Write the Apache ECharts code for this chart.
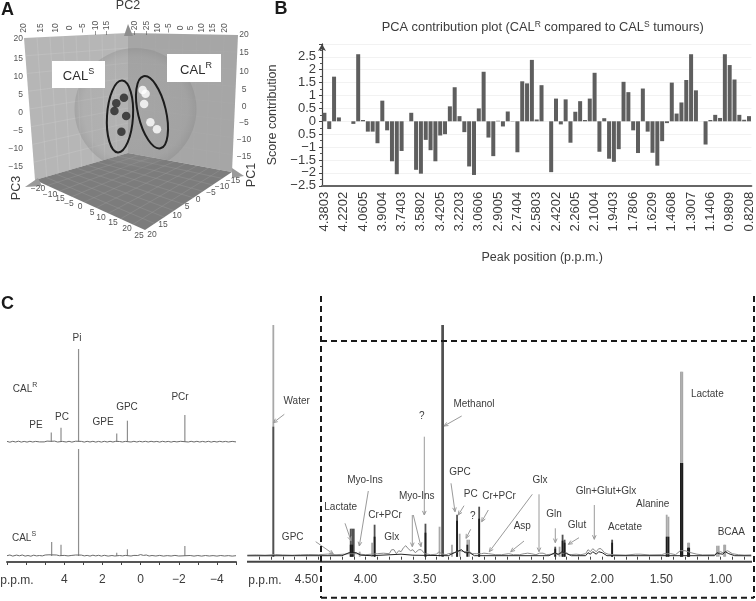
<!DOCTYPE html>
<html>
<head>
<meta charset="utf-8">
<script src="https://cdn.jsdelivr.net/npm/echarts@6/dist/echarts.min.js"></script>
<style>
html,body{margin:0;padding:0;background:#fff}
#chart{width:756px;height:601px;filter:blur(0.45px)}
</style>
</head>
<body>
<div id="chart"></div>
<script>
// ---------- Panel A: PCA scores (projected onto the page plane) ----------
const calSensitive = [[-1.1,4.0],[-3.2,2.5],[-3.7,0.4],[-0.5,-1.0],[-1.8,-5.3]];
const calResistant = [[4.0,6.1],[4.8,5.1],[4.4,2.3],[6.1,-2.7],[7.9,-4.6]];

// ---------- Panel B: contribution bars ----------
const peakLabels = ['4.3803','4.2202','4.0605','3.9004','3.7403','3.5802','3.4205','3.2203','3.0606','2.9005','2.7404','2.5803','2.4202','2.2605','2.1004','1.9403','1.7806','1.6209','1.4608','1.3007','1.1406','0.9809','0.8208'];
const scoreValues = [0.33,-0.3,1.73,0.15,0,0,-0.1,2.6,0.05,-0.4,-0.4,-0.85,0.8,-0.35,-1.55,-2.05,-1.15,0,0.33,-1.88,-2.03,-0.72,-1.12,-1.55,-0.55,-0.5,0.58,1.32,0.2,-0.42,-1.75,-2.08,0.5,1.92,-0.63,-1.35,0.02,-0.2,0.38,-0.01,-1.2,1.55,1.47,2.38,0.07,1.4,0,-1.97,0.88,-0.12,0.85,-0.83,0.37,0.78,0.05,0.88,1.88,-1.18,0.12,-1.45,-1.57,-1.08,1.53,1.13,-0.35,-1.23,1.27,-0.4,-1.22,-1.72,-0.77,-0.07,1.5,0.3,0.73,1.6,2.6,1.2,0,-0.9,0.05,0.25,0.13,2.6,2.18,1.62,0.25,0.06,0.2];
const scoreTickLabels = {'-2.5':'−2.5','-2':'−2','-1.5':'−1.5','-1':'−1','-0.5':'0.5','0':'0','0.5':'0.5','1':'1','1.5':'1.5','2':'2','2.5':'2.5','3':''};

// ---------- Panel C left: 31P spectra, [ppm, intensity] ----------
const pNoiseR = [[7,0.3],[6.85,-0.5],[6.7,0.4],[6.55,-0.3],[6.4,0.5],[6.25,-0.4],[6.1,0.3],[5.95,-0.4],[5.8,0.4],[5.65,-0.3],[5.5,0.3],[5.3,-0.2],[5.2,0.9],[5.05,-0.2],[4.9,0.6],[4.7,0.4],[4.5,0.6],[4.35,-0.3],[4.1,0.3],[3.9,-0.3],[3.75,0.4],[3.6,-0.4],[3.4,0.5],[3.1,0.3],[2.95,-0.4],[2.8,0.4],[2.65,-0.3],[2.5,0.4],[2.35,-0.4],[2.2,0.3],[2.05,-0.4],[1.9,0.4],[1.75,-0.3],[1.6,0.4],[1.45,-0.3],[1.3,0.4],[1.1,0.2],[0.95,-0.3],[0.8,0.3],[0.5,-0.3],[0.35,0.4],[0.2,-0.3],[0.05,0.4],[-0.1,-0.2],[-0.25,0.4],[-0.4,-0.3],[-0.55,0.4],[-0.7,-0.2],[-0.85,0.3],[-1,-0.4],[-1.15,0.4],[-1.3,-0.2],[-1.45,0.3],[-1.6,-0.4],[-1.75,0.3],[-1.9,-0.2],[-2.1,0.4],[-2.5,-0.3],[-2.65,0.4],[-2.8,-0.3],[-2.95,0.4],[-3.1,-0.3],[-3.25,0.3],[-3.4,-0.3],[-3.55,0.4],[-3.7,-0.4],[-3.85,0.3],[-4,-0.3],[-4.15,0.4],[-4.3,-0.2],[-4.45,0.3],[-4.6,-0.3],[-4.8,0.3],[-5,-0.2]];
const pPeaksR = [[4.68,9.3],[4.17,14],[3.25,92.7],[1.25,8.3],[0.69,21],[-2.32,26.7]];
const pNoiseS = [[7,0.3],[6.85,1],[6.7,-0.1],[6.5,0.9],[6.35,0.2],[6.2,1],[6.05,-0.1],[5.9,0.5],[5.75,-0.2],[5.6,0.8],[5.45,0.1],[5.3,0.5],[5.15,0.1],[5,1],[4.8,1.2],[4.4,1],[4.25,0.3],[4,0.6],[3.8,0.1],[3.6,0.6],[3.4,1],[3.1,0.9],[2.95,0.1],[2.8,0.6],[2.65,-0.1],[2.5,0.8],[2.35,0.1],[2.2,0.7],[2.05,-0.1],[1.9,0.7],[1.7,-0.1],[1.5,0.5],[1.35,0],[1.1,0.5],[0.95,0.1],[0.8,0.6],[0.5,0],[0.35,0.6],[0.15,0.5],[0,1.4],[-0.15,0.6],[-0.3,1],[-0.45,0],[-0.6,0.5],[-0.8,0],[-1,0.6],[-1.2,-0.1],[-1.4,0.4],[-1.6,0],[-1.8,0.6],[-2,0],[-2.6,0.5],[-2.8,-0.1],[-3,0.5],[-3.2,-0.1],[-3.4,0.5],[-3.6,0],[-3.8,0.4],[-4,-0.1],[-4.2,0.5],[-4.4,0],[-4.6,0.4],[-4.8,-0.1],[-5,0.3]];
const pPeaksS = [[4.66,14],[4.17,11.3],[3.25,107],[1.25,3.3],[0.69,6.7],[-2.32,10]];
const pAxisLabels = {'4':'4','2':'2','0':'0','-2':'−2','-4':'−4'};

// ---------- Panel C right: 1H spectra, [ppm, intensity] ----------
const hLightBase = [[5,1.6],[4.92,1.8],[4.85,1.5],[4.76,2.2],[4.7,1.8],[4.62,1.5],[4.55,1.9],[4.48,2.2],[4.4,2],[4.32,2.6],[4.25,2],[4.18,2.5],[4.14,3],[4.08,3],[4.05,2.5],[4,2],[3.95,2.5],[3.9,3],[3.85,3.5],[3.8,3],[3.78,7],[3.76,7],[3.74,3],[3.72,6],[3.7,5],[3.68,9],[3.66,11],[3.64,8],[3.62,6],[3.6,7],[3.58,4],[3.55,7],[3.53,7],[3.5,3],[3.45,2],[3.4,2.5],[3.38,5],[3.36,3],[3.32,2],[3.3,3],[3.25,4],[3.2,6],[3.17,5],[3.12,5],[3.1,3],[3.06,3],[3.02,3],[3,3.5],[2.96,3],[2.9,2],[2.85,2],[2.79,3],[2.75,2],[2.7,2],[2.66,3],[2.63,3.5],[2.6,3],[2.56,2],[2.53,3.5],[2.5,3.5],[2.47,2],[2.43,2.5],[2.38,3],[2.3,4],[2.28,2],[2.22,2.5],[2.18,2],[2.14,3],[2.12,7],[2.1,5],[2.08,8],[2.05,5],[2.03,8],[2.01,8],[1.98,4],[1.95,2.5],[1.9,2],[1.8,1.6],[1.72,2.5],[1.68,2.5],[1.6,1.8],[1.5,2],[1.47,3],[1.42,3],[1.38,2],[1.34,6],[1.3,6],[1.25,4],[1.2,2.5],[1.15,1.8],[1.05,2],[1,5],[0.98,4],[0.94,6],[0.9,3],[0.85,2],[0.8,1.6],[0.74,1.8]];
const hLightPeaks = [[4.78,231.7],[4.05,5],[3.945,14],[3.375,30],[3.27,12],[3.205,23],[3.14,17],[3.125,17],[2.36,10],[1.455,42],[1.44,40],[1.335,185],[1.323,185],[1.275,14],[1.265,14],[1.03,11],[1.015,11],[0.97,12],[0.96,12]];
const hMidPeaks = [[4.78,130],[4.126,28],[4.113,28],[4.1,28],[3.924,32],[3.494,33],[3.353,231.7],[3.345,231.7],[3.227,42],[3.04,50],[2.397,10],[2.335,22],[2.318,17],[1.916,17]];
const hDarkBase = [[5,0.9],[4.6,1],[4.2,1],[4.14,4],[4.08,4],[4.04,1.5],[3.95,1],[3.7,2.5],[3.6,1.5],[3.3,1],[3.25,4],[3.19,7],[3.16,4],[3.12,4],[3.08,1],[2.45,1],[2.4,4],[2.37,2],[2.34,5],[2.3,3],[2.26,1],[2.14,1],[2.12,4],[2.1,2.5],[2.08,5],[2.05,2.5],[2.03,5],[2,4],[1.96,1],[1.05,1],[1.03,4],[1.01,3],[0.98,2.5],[0.96,5],[0.93,3],[0.88,1],[0.74,0.9]];
const hDarkPeaks = [[4.126,12],[4.113,12],[3.924,20],[3.494,24],[3.227,36],[3.14,12],[3.04,38],[2.397,8],[2.335,16],[2.318,14],[1.916,14],[1.455,20],[1.44,20],[1.335,93.7],[1.323,93.7],[1.275,9],[1.265,9]];

const FONT = '"Liberation Sans", Arial, sans-serif';
const TEXT = '#3c3c3c';
function txt(x, y, text, size, opt) {
  opt = opt || {};
  return {type:'text', x, y, rotation: opt.rot || 0, z: 20, silent: true,
    style: {text, fontSize:size, fontFamily:FONT, fill:opt.fill||TEXT, fontWeight:opt.weight||'normal',
      align:opt.align||'center', verticalAlign:'middle', rich:opt.rich}};
}
function line(pts, stroke, w, z, dash) {
  return {type:'polyline', z: z||1, silent:true, shape:{points:pts}, style:{stroke, lineWidth:w, fill:null, lineDash:dash||null}};
}
function arrow(x1, y1, x2, y2) {
  const a = Math.atan2(y2-y1, x2-x1), s = 4.5, d = 0.42;
  return [line([[x1,y1],[x2,y2]], '#9a9a9a', 1, 18),
          line([[x2-s*Math.cos(a-d), y2-s*Math.sin(a-d)],[x2,y2],[x2-s*Math.cos(a+d), y2-s*Math.sin(a+d)]], '#9a9a9a', 1, 18)];
}
function poly(pts, fill, z) {
  return {type:'polygon', z:z||0, silent:true, shape:{points:pts}, style:{fill}};
}
function quadGrid(tl, tr, br, bl, n, stroke) {
  const out = [];
  const mix = (a, b, t) => [a[0]+(b[0]-a[0])*t, a[1]+(b[1]-a[1])*t];
  for (let i = 1; i < n; i++) {
    const t = i/n;
    out.push(line([mix(tl,tr,t), mix(bl,br,t)], stroke, 0.6, 1));
    out.push(line([mix(tl,bl,t), mix(tr,br,t)], stroke, 0.6, 1));
  }
  return out;
}

// ---------- Decorative layer ----------
const g = [];
const corner = {top:[128,33], tl:[24,38], bl:[35,180], back:[128,153], tr:[238,35], br:[232,172], front:[145,230]};
g.push(poly([corner.tl, corner.top, corner.back, corner.bl], '#b6b6b6', 0));
g.push(poly([corner.top, corner.tr, corner.br, corner.back], '#a6a6a6', 0));
g.push(poly([corner.back, corner.br, corner.front, corner.bl], '#7c7c7c', 0));
g.push(...quadGrid(corner.tl, corner.top, corner.back, corner.bl, 8, 'rgba(205,205,205,0.6)'));
g.push(...quadGrid(corner.top, corner.tr, corner.br, corner.back, 8, 'rgba(175,175,175,0.4)'));
g.push(...quadGrid(corner.bl, corner.back, corner.br, corner.front, 9, 'rgba(160,160,160,0.55)'));
g.push(poly([[128,24],[124,36],[133,36]], '#8e8e8e', 1));
g.push(poly([[25,187],[38,178],[42,186]], '#9a9a9a', 1));
g.push(poly([[232,168],[244,176],[232,178]], '#9a9a9a', 1));
g.push({type:'circle', z:1, silent:true, shape:{cx:135.5,cy:109,r:61},
  style:{fill:{type:'radial',x:0.5,y:0.5,r:0.5,colorStops:[{offset:0,color:'rgba(165,165,165,0.2)'},{offset:0.85,color:'rgba(150,150,150,0.22)'},{offset:1,color:'rgba(120,120,120,0.28)'}]}}});
g.push({type:'rect', z:3, silent:true, shape:{x:52,y:61,width:53,height:27}, style:{fill:'#fff'}});
g.push({type:'rect', z:3, silent:true, shape:{x:167,y:54,width:54,height:28}, style:{fill:'#fff'}});
const bigSup = {n:{fontSize:13,fontFamily:FONT,fill:'#2c2c2c',lineHeight:16,verticalAlign:'bottom'},s:{fontSize:9,fontFamily:FONT,fill:'#2c2c2c',lineHeight:16,verticalAlign:'top'}};
g.push(txt(78.5,75,'{n|CAL}{s|S}',12,{rich:bigSup}));
g.push(txt(196,69,'{n|CAL}{s|R}',12,{rich:bigSup}));
g.push({type:'ellipse', z:4, silent:true, x:120, y:116.5, rotation:-0.06, shape:{cx:0,cy:0,rx:13,ry:36}, style:{stroke:'#1c1c1c',lineWidth:2,fill:null}});
g.push({type:'ellipse', z:4, silent:true, x:152, y:112.3, rotation:0.23, shape:{cx:0,cy:0,rx:14,ry:37}, style:{stroke:'#1c1c1c',lineWidth:2,fill:null}});
const PI2 = Math.PI/2;
[[24,'20'],[41,'15'],[56,'10'],[70,'0'],[83,'−5'],[96,'−10'],[107,'−15'],[135,'−20'],[147,'−25'],[158,'10'],[169,'−5'],[181,'0'],[191,'5'],[202,'10'],[213,'15'],[225,'20']]
  .forEach(([x,t]) => g.push(txt(x,28,t,8.5,{rot:PI2,fill:'#555'})));
[[39,'20'],[58.7,'15'],[77,'10'],[95,'5'],[112.7,'0'],[130.7,'−5'],[149,'−10'],[166.7,'−15']]
  .forEach(([y,t]) => g.push(txt(23,y,t,8.5,{align:'right',fill:'#555'})));
[[35,'20'],[53,'15'],[72,'10'],[90,'5'],[107,'0'],[123,'−5'],[140,'−10'],[157,'−15']]
  .forEach(([y,t]) => g.push(txt(244,y,t,8.5,{fill:'#555'})));
[[38,189,'−20'],[50,195,'−10'],[60,199,'15'],[69,204,'−5'],[80,207,'0'],[92,213,'5'],[101,218,'10'],[113,223,'15'],[127,229,'20'],[139,236,'25'],[152,235,'20'],[163,225,'15'],[177,216,'10'],[187,207,'5'],[198,200,'0'],[211,193,'−5'],[222,187,'−10'],[233,181,'−15']]
  .forEach(([x,y,t]) => g.push(txt(x,y,t,8.5,{fill:'#555'})));
g.push(txt(128,6,'PC2',12.5));
g.push(txt(17,188,'PC3',12.5,{rot:PI2}));
g.push(txt(252,175,'PC1',12.5,{rot:PI2}));
g.push(txt(7.5,10,'A',18,{weight:'bold',fill:'#1a1a1a'}));
g.push(txt(281,9,'B',18,{weight:'bold',fill:'#1a1a1a'}));
g.push(txt(7.5,304,'C',18,{weight:'bold',fill:'#1a1a1a'}));
const sup = {n:{fontSize:10,fontFamily:FONT,fill:TEXT,lineHeight:13,verticalAlign:'bottom'},s:{fontSize:7,fontFamily:FONT,fill:TEXT,lineHeight:13,verticalAlign:'top'}};
[[77,338,'Pi'],[36,425,'PE'],[62,417,'PC'],[103,422,'GPE'],[127,407,'GPC'],[180,397,'PCr']].forEach(([x,y,t]) => g.push(txt(x,y,t,10)));
g.push(txt(25,388,'{n|CAL}{s|R}',10,{rich:sup}));
g.push(txt(24,537,'{n|CAL}{s|S}',10,{rich:sup}));
g.push(txt(17,580.5,'p.p.m.',12));
g.push(txt(265,580.5,'p.p.m.',12));
[[296.7,401.3,'Water'],[292.7,537.3,'GPC'],[340.7,507.3,'Lactate'],[365,480,'Myo-Ins'],[385,515.7,'Cr+PCr'],[391.7,537.3,'Glx'],[416.7,496.7,'Myo-Ins'],[421.7,416,'?'],[474,404,'Methanol'],[460,472.3,'GPC'],[470.7,494.3,'PC'],[472.7,516,'?'],[499,496.7,'Cr+PCr'],[540,480,'Glx'],[554,514,'Gln'],[522.3,526,'Asp'],[577,525,'Glut'],[606,491.7,'Gln+Glut+Glx'],[652.7,504.7,'Alanine'],[625,527.7,'Acetate'],[707.3,394,'Lactate'],[731.3,532.3,'BCAA']]
  .forEach(([x,y,t]) => g.push(txt(x,y,t,10)));
[[284.3,414.3,273.3,422.7],[315.7,541.7,333.3,554],[345,523.3,351,540.7],[368.3,491,359.3,546],[412.3,515,412.3,546.7],[413.3,515,421,546.7],[424.3,436.7,424.3,515],[461.7,416,444,426],[451,483.3,455,511.7],[464,505.7,458.3,515],[470.7,529.3,466,538.3],[488.3,510,481.7,521.7],[532.3,494.3,489.3,551.7],[539,494.3,539,551.7],[524,541,510.7,551.7],[555.3,528.3,555.3,542.7],[579,537.7,568.3,544.3],[594.3,505,594.3,539.3]]
  .forEach(a => g.push(...arrow(a[0],a[1],a[2],a[3])));
const dash = [6,4];
g.push(line([[321,296],[321,598]], '#1a1a1a', 2, 19, dash));
g.push(line([[321,341],[754,341]], '#1a1a1a', 2, 19, dash));
g.push(line([[754,296],[754,598]], '#1a1a1a', 2, 19, dash));
g.push(line([[321,597.7],[754,597.7]], '#1a1a1a', 2, 19, dash));
g.push(line([[247,561.7],[752,561.7]], '#444', 2, 15));

// ---------- Chart ----------
const categories = scoreValues.map((_, i) => i % 4 ? '' : peakLabels[i/4]);
const hidden = {show:false};
const hiddenAxis = {axisLine:hidden, axisTick:hidden, axisLabel:hidden, splitLine:hidden};
const H = {xAxisIndex:4, yAxisIndex:4, silent:true};
const spikes = {type:'bar', barWidth:1.8, barGap:'-100%'};

const option = {
  animation:false,
  backgroundColor:'#fff',
  textStyle:{fontFamily:FONT},
  title:{text:'PCA contribution plot (CAL{s|R} compared to CAL{s|S} tumours)', left:537.7, top:15, textAlign:'center',
    textStyle:{fontSize:12.8,fontWeight:'normal',fontFamily:FONT,color:TEXT,
      rich:{s:{fontSize:8.5,fontFamily:FONT,color:TEXT,verticalAlign:'top',lineHeight:15}}}},
  grid:[
    {left:322, top:43.9, width:429.4, height:141.9},
    {left:18, top:39, width:220, height:146.8},
    {left:7, top:341.7, width:229, height:103},
    {left:7, top:446, width:229, height:116},
    {left:247.3, top:324.7, width:510, height:237}
  ],
  xAxis:[
    {gridIndex:0, type:'category', data:categories,
      axisLine:{lineStyle:{color:'#666',width:2},onZero:false},
      axisTick:{alignWithLabel:true, interval:3, length:3, lineStyle:{color:'#555'}},
      axisLabel:{interval:3, rotate:90, fontSize:13, fontFamily:FONT, color:TEXT, margin:6},
      name:'Peak position (p.p.m.)', nameLocation:'middle', nameGap:65,
      nameTextStyle:{fontSize:12.5,fontFamily:FONT,color:TEXT,padding:[0,0,0,11]}},
    Object.assign({gridIndex:1, type:'value', min:-30, max:30}, hiddenAxis),
    Object.assign({gridIndex:2, type:'value', min:-5, max:7, inverse:true}, hiddenAxis),
    {gridIndex:3, type:'value', min:-5, max:7, interval:1, inverse:true,
      axisLine:{lineStyle:{color:'#555',width:2},onZero:false},
      axisTick:{length:3, lineStyle:{color:'#444'}},
      axisLabel:{fontSize:12, fontFamily:FONT, color:TEXT, margin:12, formatter:v => pAxisLabels[v] || ''},
      splitLine:hidden},
    {gridIndex:4, type:'value', min:0.7, max:5, interval:0.1, inverse:true,
      axisLine:hidden,
      axisTick:{length:3, lineStyle:{color:'#444'}},
      axisLabel:{fontSize:12, fontFamily:FONT, color:TEXT, margin:12, showMinLabel:false, showMaxLabel:false,
        formatter:v => Math.abs(v*2-Math.round(v*2))<1e-6 && v<4.9 ? v.toFixed(2) : ''},
      splitLine:hidden}
  ],
  yAxis:[
    {gridIndex:0, type:'value', min:-2.5, max:3, interval:0.5,
      axisLine:{show:true, lineStyle:{color:'#444',width:1.2}, symbol:['none','arrow'], symbolSize:[6,7], onZero:false},
      axisTick:{show:true, length:3, lineStyle:{color:'#444'}},
      minorTick:{show:true, splitNumber:2, length:2, lineStyle:{color:'#555'}},
      axisLabel:{fontSize:13, fontFamily:FONT, color:TEXT, margin:6, formatter:v => scoreTickLabels[String(v)] ?? ''},
      splitLine:{show:true, lineStyle:{color:'#f2f2f2',width:1}},
      name:'Score contribution', nameLocation:'middle', nameGap:24,
      nameTextStyle:{fontSize:12.5,fontFamily:FONT,color:TEXT}},
    Object.assign({gridIndex:1, type:'value', min:-20, max:20}, hiddenAxis),
    Object.assign({gridIndex:2, type:'value', min:-3, max:100}, hiddenAxis),
    Object.assign({gridIndex:3, type:'value', min:-6, max:110}, hiddenAxis),
    Object.assign({gridIndex:4, type:'value', min:-5, max:232}, hiddenAxis)
  ],
  series:[
    {name:'Score contribution', type:'bar', xAxisIndex:0, yAxisIndex:0, data:scoreValues, barWidth:4,
      itemStyle:{color:'#5e5e5e'}, silent:true, z:3},
    {name:'CAL-S', type:'scatter', xAxisIndex:1, yAxisIndex:1, data:calSensitive, symbolSize:8.5, itemStyle:{color:'#262626'}, silent:true, z:6},
    {name:'CAL-R', type:'scatter', xAxisIndex:1, yAxisIndex:1, data:calResistant, symbolSize:8.5, itemStyle:{color:'#ffffff'}, silent:true, z:6},
    {name:'CAL-R noise', type:'line', xAxisIndex:2, yAxisIndex:2, data:pNoiseR, showSymbol:false, lineStyle:{color:'#6a6a6a',width:1}, silent:true, clip:false},
    {name:'CAL-R peaks', type:'bar', barWidth:1.2, xAxisIndex:2, yAxisIndex:2, data:pPeaksR, itemStyle:{color:'#8e8e8e'}, silent:true},
    {name:'CAL-S noise', type:'line', xAxisIndex:3, yAxisIndex:3, data:pNoiseS, showSymbol:false, lineStyle:{color:'#6a6a6a',width:1}, silent:true, clip:false},
    {name:'CAL-S peaks', type:'bar', barWidth:1.2, xAxisIndex:3, yAxisIndex:3, data:pPeaksS, itemStyle:{color:'#8e8e8e'}, silent:true},
    Object.assign({name:'1H light peaks', data:hLightPeaks, itemStyle:{color:'#a8a8a8'}, z:3}, spikes, H),
    Object.assign({name:'1H mid peaks', data:hMidPeaks, itemStyle:{color:'#515151'}, z:4}, spikes, H),
    Object.assign({name:'1H dark peaks', data:hDarkPeaks, itemStyle:{color:'#1c1c1c'}, z:5}, spikes, H),
    Object.assign({name:'1H light', type:'line', data:hLightBase, showSymbol:false, lineStyle:{color:'#8c8c8c',width:1}, z:6}, H),
    Object.assign({name:'1H dark', type:'line', data:hDarkBase, showSymbol:false, lineStyle:{color:'#222',width:1}, z:7}, H)
  ],
  graphic:{elements:g}
};
const chart = echarts.init(document.getElementById('chart'));
chart.setOption(option);
</script>
</body>
</html>
